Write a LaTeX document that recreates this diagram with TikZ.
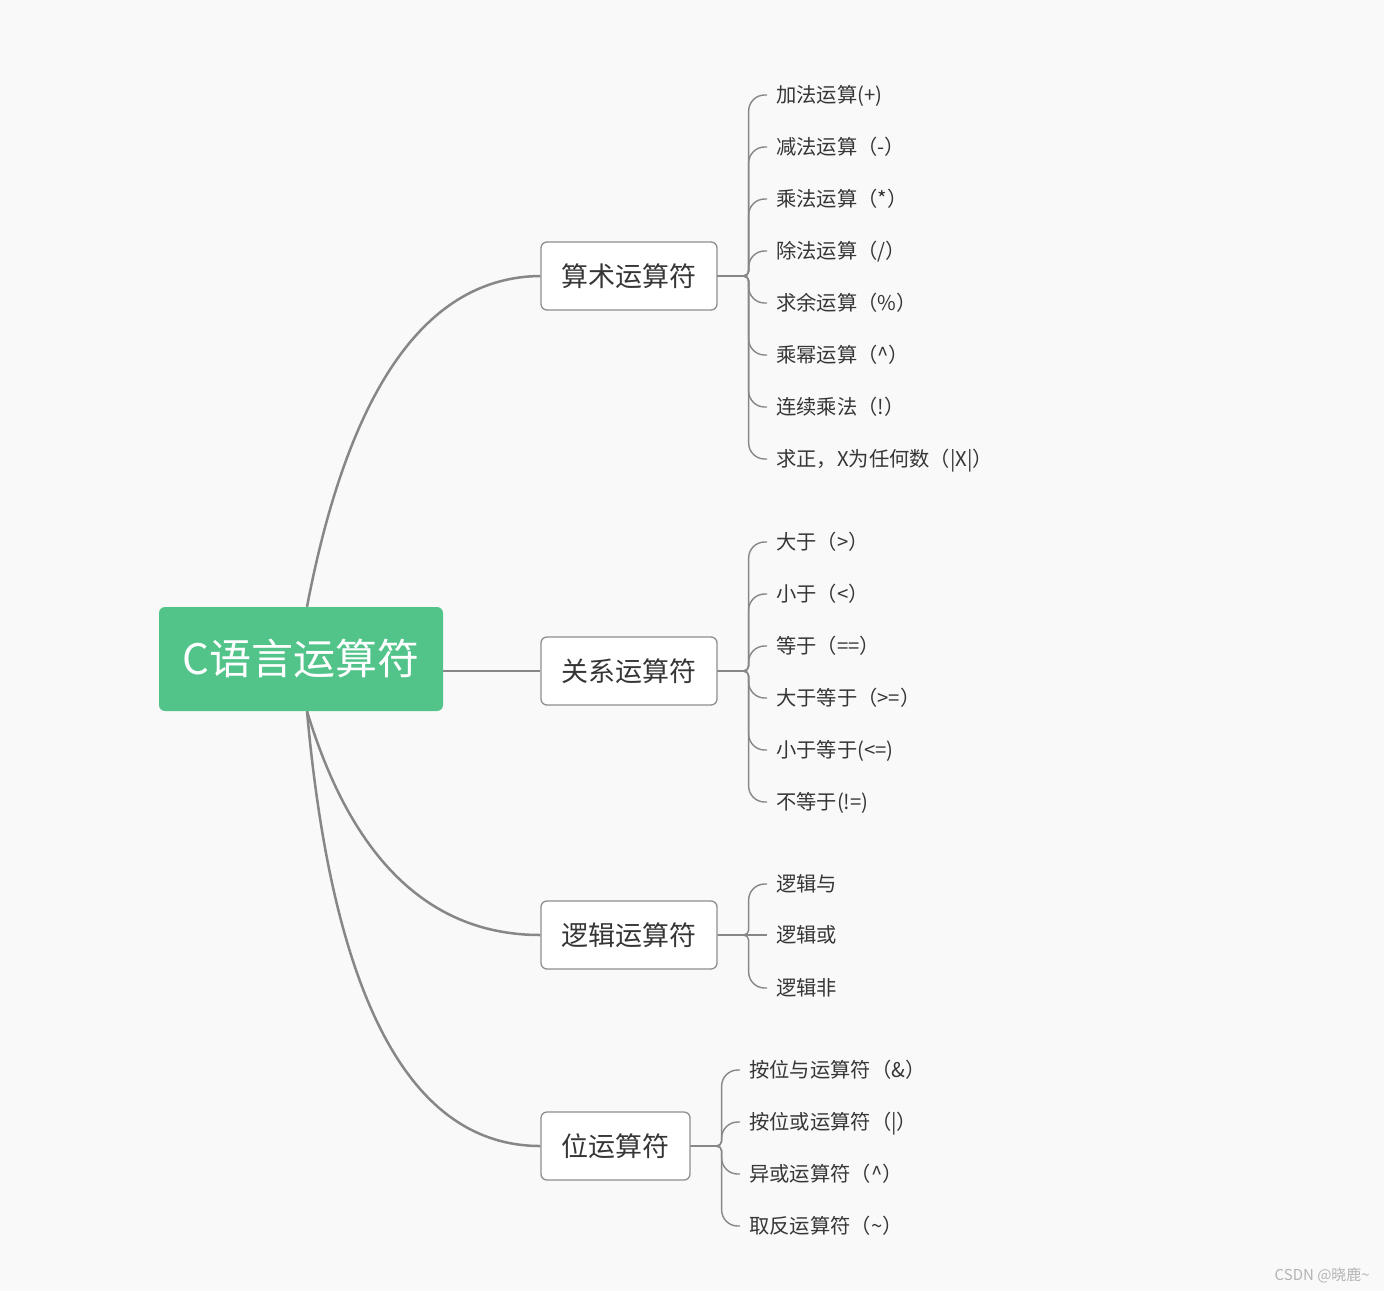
\documentclass[tikz,border=0pt]{standalone}
\usepackage{fontspec}
\setmainfont{Noto Sans CJK SC}
\definecolor{bg}{HTML}{F9F9F9}
\definecolor{rootg}{HTML}{52C48A}
\definecolor{txt}{HTML}{363636}
\definecolor{bord}{HTML}{8E8E8E}
\definecolor{linec}{HTML}{878787}
\definecolor{wmc}{HTML}{B4B4B4}
\begin{document}
\begin{tikzpicture}[x=1pt,y=-1pt,
  every node/.style={font=\fontsize{20.3}{24}\selectfont, text=txt},
  rootbox/.style={fill=rootg, rounded corners=6pt, minimum width=284pt, minimum height=104pt, text=white, font=\fontsize{42}{50}\selectfont, inner sep=0pt},
  branch/.style={draw=bord, line width=1.3pt, fill=white, rounded corners=6pt, minimum height=68pt, font=\fontsize{27}{32}\selectfont, inner sep=0pt},
  leaf/.style={anchor=west, inner xsep=9pt, inner ysep=0pt, text height=17.6pt, text depth=2.4pt},
  mainline/.style={draw=linec, line width=2.5pt},
  leafline/.style={draw=linec, line width=1.4pt},
]
\fill[bg] (0,0) rectangle (1384,1291);
\useasboundingbox (0,0) rectangle (1384,1291);

% root and branches
\node[rootbox] (root) at (301,659) {C语言运算符};
\node[branch, minimum width=176pt] (b1) at (629,276) {算术运算符};
\node[branch, minimum width=176pt] (b2) at (629,671) {关系运算符};
\node[branch, minimum width=176pt] (b3) at (629,935) {逻辑运算符};
\node[branch, minimum width=149pt] (b4) at (615.5,1146) {位运算符};

\draw[mainline] ([xshift=6pt]root.north) .. controls (349,387) and (427,277) .. (b1.west);
\draw[mainline] (b2.west -| root.east) -- (b2.west);
\draw[mainline] ([xshift=6pt]root.south) .. controls (352,860) and (430,935) .. (b3.west);
\draw[mainline] ([xshift=6pt]root.south) .. controls (333,1001) and (411,1146) .. (b4.west);

% junction points
\coordinate (j1) at ([xshift=31pt]b1.east);
\coordinate (j2) at ([xshift=31pt]b2.east);
\coordinate (j3) at ([xshift=31pt]b3.east);
\coordinate (j4) at ([xshift=31pt]b4.east);

% arithmetic leaves
\node[leaf] (a1) at (767,95) {加法运算(+)};
\node[leaf] (a2) at (767,147) {减法运算（-）};
\node[leaf] (a3) at (767,199) {乘法运算（*）};
\node[leaf] (a4) at (767,251) {除法运算（/）};
\node[leaf] (a5) at (767,303) {求余运算（\%）};
\node[leaf] (a6) at (767,355) {乘幂运算（\textasciicircum）};
\node[leaf] (a7) at (767,407) {连续乘法（!）};
\node[leaf] (a8) at (767,459) {求正，X为任何数（|X|）};
\foreach \n in {a1,a2,a3,a4,a5,a6,a7,a8}
  \draw[leafline] (b1.east) [rounded corners=5pt] -- (j1) [rounded corners=16pt] -- (j1 |- \n.west) -- (\n.west);

% relational leaves
\node[leaf] (r1) at (767,542) {大于（>）};
\node[leaf] (r2) at (767,594) {小于（<）};
\node[leaf] (r3) at (767,646) {等于（==）};
\node[leaf] (r4) at (767,698) {大于等于（>=）};
\node[leaf] (r5) at (767,750) {小于等于(<=)};
\node[leaf] (r6) at (767,802) {不等于(!=)};
\foreach \n in {r1,r2,r3,r4,r5,r6}
  \draw[leafline] (b2.east) [rounded corners=5pt] -- (j2) [rounded corners=16pt] -- (j2 |- \n.west) -- (\n.west);

% logical leaves
\node[leaf] (l1) at (767,884) {逻辑与};
\node[leaf] (l2) at (767,935) {逻辑或};
\node[leaf] (l3) at (767,988) {逻辑非};
\draw[leafline] (b3.east) [rounded corners=5pt] -- (j3) [rounded corners=16pt] -- (j3 |- l1.west) -- (l1.west);
\draw[leafline] (b3.east) -- (l2.west);
\draw[leafline] (b3.east) [rounded corners=5pt] -- (j3) [rounded corners=16pt] -- (j3 |- l3.west) -- (l3.west);

% bitwise leaves
\node[leaf] (w1) at (740,1070) {按位与运算符（\&）};
\node[leaf] (w2) at (740,1122) {按位或运算符（|）};
\node[leaf] (w3) at (740,1174) {异或运算符（\textasciicircum）};
\node[leaf] (w4) at (740,1226) {取反运算符（\textasciitilde）};
\foreach \n in {w1,w2,w3,w4}
  \draw[leafline] (b4.east) [rounded corners=5pt] -- (j4) [rounded corners=16pt] -- (j4 |- \n.west) -- (\n.west);

% watermark
\node[anchor=east, text=wmc, font=\fontsize{15}{18}\selectfont, inner sep=0pt] (wm) at (1370,1275) {CSDN @晓鹿\textasciitilde};
\end{tikzpicture}
\end{document}
